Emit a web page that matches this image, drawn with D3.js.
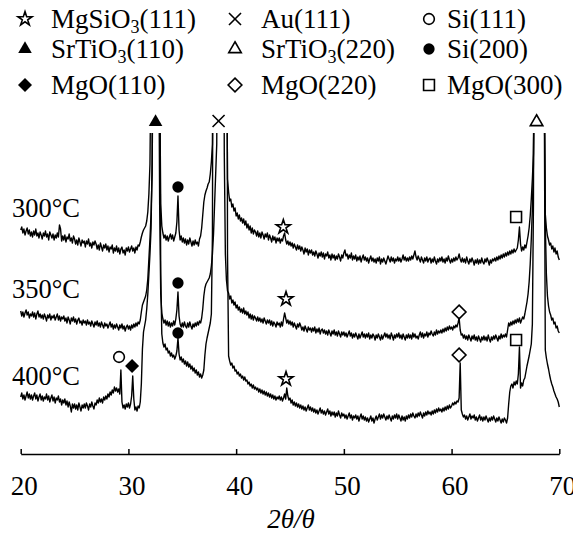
<!DOCTYPE html>
<html>
<head>
<meta charset="utf-8">
<script src="https://cdn.jsdelivr.net/npm/d3@7"></script>
<style>
  body { margin: 0; background: #fff; }
</style>
</head>
<body>
<div class="canvas"></div>
<script>
// scan: 2theta from 20 to 70 deg, step 0.1 deg; intensities in a.u. (curves stacked)
const angleStart = 20
const angleStep = 0.1

const counts300 = [
  224,227,221,225,219,223,226,220,224,218,
  222,217,223,219,225,218,221,216,222,219,
  215,221,218,223,217,220,214,222,219,216,
  220,214,219,216,221,217,229,225,213,218,
  214,219,212,217,215,220,213,216,211,218,
  215,210,214,209,216,212,208,214,211,213,
  207,213,210,215,208,211,206,212,209,213,
  210,205,209,204,211,207,203,209,206,210,
  204,208,202,207,205,209,201,206,203,208,
  202,206,200,205,207,201,204,199,206,203,
  207,202,205,208,203,206,201,207,204,209,
  208,212,217,221,224,226,228,233,242,260,
  290,400,700,900,1000,1000,950,800,600,380,
  250,228,221,216,219,214,218,213,217,220,
  215,219,213,217,221,232,258,224,214,218,
  212,216,211,215,209,214,210,216,212,208,
  213,209,214,210,212,208,215,218,226,239,
  252,259,263,266,270,272,280,292,310,500,
  800,1000,1000,1000,1000,1000,1000,1000,1000,1000,
  800,450,275,262,253,255,247,250,243,246,
  238,241,235,239,233,236,231,235,229,233,
  226,230,224,228,221,226,220,224,222,218,
  223,217,221,216,222,219,215,220,217,221,
  214,219,216,212,218,214,217,211,216,213,
  216,211,215,213,218,221,214,210,213,209,
  212,208,211,206,210,207,204,209,205,208,
  203,207,204,200,206,202,205,199,204,201,
  204,199,202,198,203,200,196,201,198,202,
  197,201,195,200,198,202,196,199,194,200,
  196,199,194,198,195,200,197,193,199,196,
  201,204,198,200,195,199,196,201,194,198,
  195,199,193,197,194,198,192,196,199,194,
  197,193,196,191,195,198,193,196,192,195,
  191,196,193,197,190,195,192,196,193,190,
  194,198,195,192,197,193,196,191,195,193,
  197,193,196,192,195,199,194,197,193,196,
  193,197,194,198,195,199,203,197,194,198,
  195,192,197,194,191,196,193,197,192,195,
  196,191,195,192,197,193,190,195,192,196,
  193,197,192,195,191,196,193,198,194,191,
  195,192,196,193,197,194,196,200,195,192,
  196,192,195,191,197,193,190,195,192,196,
  193,189,194,191,195,190,194,191,196,192,
  190,195,192,196,193,189,194,191,195,193,
  196,193,197,194,198,195,199,196,200,197,
  201,198,202,199,203,200,204,201,205,202,
  204,206,214,227,210,203,207,204,209,206,
  212,218,226,238,255,275,300,420,700,900,
  1000,1000,1000,1000,1000,900,380,240,226,218,
  214,209,211,205,208,202,206,200,203,197,
  194
]

const counts350 = [
  143,138,142,137,141,144,139,142,136,140,
  138,142,137,141,135,140,143,137,140,136,
  139,135,140,137,133,139,136,140,134,138,
  136,139,134,137,140,134,138,133,137,135,
  138,133,136,131,137,134,130,136,133,137,
  132,135,130,134,136,131,133,129,134,131,
  133,129,134,130,132,128,133,130,127,132,
  129,133,128,131,127,132,129,126,131,128,
  130,126,129,132,127,130,125,129,126,130,
  127,124,129,126,130,125,128,123,127,129,
  125,128,124,129,126,130,127,131,128,132,
  130,134,142,149,152,155,158,164,175,195,
  215,240,280,430,800,1000,950,700,450,250,
  160,141,135,131,134,129,133,128,132,127,
  131,128,133,129,135,144,162,138,130,127,
  131,127,132,128,126,131,127,132,128,125,
  130,127,131,128,132,129,133,131,136,145,
  158,166,170,172,174,176,180,188,200,220,
  250,280,310,600,1000,1000,1000,900,600,300,
  200,174,163,161,155,158,151,154,149,152,
  146,149,144,147,142,145,141,146,140,143,
  139,142,136,140,135,139,134,138,136,133,
  137,133,136,132,135,131,136,133,130,134,
  131,134,129,133,128,132,130,127,132,129,
  131,127,132,128,135,141,136,131,134,130,
  133,129,132,127,131,128,125,130,127,131,
  128,124,127,123,128,125,122,127,124,126,
  122,126,123,127,121,125,122,126,120,124,
  125,121,124,120,123,119,124,121,118,123,
  120,124,119,122,118,123,120,117,122,119,
  122,118,121,117,120,123,118,121,116,120,
  117,121,118,115,120,116,119,122,117,120,
  116,120,117,121,115,119,116,120,118,114,
  119,116,120,117,114,119,115,118,121,117,
  120,116,119,115,121,118,114,119,116,120,
  117,121,116,119,115,120,117,114,119,116,
  120,116,119,115,121,117,120,116,118,115,
  119,122,117,121,116,120,118,122,117,121,
  119,123,120,118,122,119,124,120,123,121,
  124,121,125,122,126,123,127,124,128,125,
  127,124,128,126,129,127,131,136,124,119,
  120,116,119,115,118,114,119,116,113,118,
  115,119,114,117,113,118,115,112,117,114,
  118,114,117,113,119,115,112,117,114,118,
  115,119,116,113,118,115,120,116,119,117,
  120,117,124,131,128,132,129,133,130,134,
  131,135,132,136,131,134,137,135,140,146,
  152,160,172,190,215,245,290,420,700,900,
  1000,1000,1000,1000,1000,900,380,230,180,158,
  148,142,139,134,136,130,132,126,128,123,
  121
]

const counts400 = [
  57,61,55,59,54,58,62,56,60,55,
  59,54,58,61,55,59,53,57,60,54,
  58,53,57,55,60,54,58,52,56,59,
  53,57,51,56,54,58,52,55,49,54,
  51,55,49,53,47,52,48,42,50,46,
  50,45,49,44,51,47,43,49,46,50,
  46,51,48,44,50,47,52,48,45,51,
  49,54,51,56,52,55,51,57,54,58,
  55,60,57,62,59,64,61,67,63,66,
  62,65,60,84,52,46,49,45,50,47,
  51,46,50,58,78,55,44,47,43,48,
  46,52,70,105,122,128,134,145,160,180,
  200,225,290,700,1000,1000,1000,900,700,400,
  180,120,111,107,110,104,106,101,103,98,
  101,97,99,95,98,103,116,100,94,97,
  92,95,90,93,88,92,87,90,85,88,
  83,86,81,84,79,82,77,80,76,79,
  84,99,110,116,121,126,131,140,220,700,
  1000,1000,1000,1000,1000,1000,1000,1000,1000,1000,
  1000,800,200,98,93,89,91,86,88,83,
  84,80,82,78,80,76,78,74,77,73,
  74,70,72,68,70,66,69,65,67,64,
  66,62,65,61,64,60,63,59,62,58,
  61,57,60,56,59,55,58,54,57,55,
  58,54,57,53,56,60,55,66,58,54,
  56,51,54,49,52,48,51,47,50,46,
  49,45,48,44,47,43,46,49,44,47,
  43,46,42,45,41,44,40,43,46,41,
  44,40,43,39,42,45,40,43,38,42,
  39,42,37,41,38,43,39,36,41,38,
  40,36,39,35,38,41,36,39,34,38,
  36,39,35,38,33,37,40,35,38,34,
  37,33,36,32,35,38,33,36,31,35,
  38,34,37,40,35,39,36,40,37,34,
  38,35,39,36,33,38,35,39,36,40,
  35,39,36,33,38,34,37,33,38,35,
  39,36,40,37,41,38,36,40,37,41,
  38,42,39,36,41,38,42,39,43,40,
  42,39,43,40,44,41,45,42,46,43,
  45,42,46,43,47,44,48,45,49,46,
  48,51,49,52,50,53,52,56,91,44,
  40,37,39,35,38,34,37,40,35,38,
  36,39,34,37,33,36,39,34,37,33,
  37,34,38,35,32,36,33,37,34,38,
  35,32,36,33,37,34,31,35,32,36,
  34,31,36,50,62,68,70,66,72,69,
  73,70,80,107,66,71,68,74,76,82,
  88,93,98,104,110,130,250,700,1000,1000,
  1000,1000,1000,1000,1000,900,380,104,96,90,
  85,79,74,70,67,63,60,57,55,52,
  47
]

const traceLabels = ["300°C", "350°C", "400°C"]
const labelIntensity = [237, 156, 69]

// legend order: rows of three
const phases = ["MgSiO3(111)", "Au(111)", "Si(111)",
                "SrTiO3(110)", "SrTiO3(220)", "Si(200)",
                "MgO(110)", "MgO(220)", "MgO(300)"]

// peak markers: [phase, 2theta, intensity]
const peakMarks = [
  ["SrTiO3(110)", 32.52, 332], ["Au(111)", 38.37, 333], ["SrTiO3(220)", 67.89, 332],
  ["Si(200)", 34.6, 267], ["Si(200)", 34.6, 171], ["Si(200)", 34.6, 121],
  ["MgSiO3(111)", 44.38, 227], ["MgSiO3(111)", 44.63, 155], ["MgSiO3(111)", 44.63, 75],
  ["MgO(300)", 65.99, 237], ["MgO(300)", 65.99, 114],
  ["MgO(220)", 60.7, 142], ["MgO(220)", 60.7, 99],
  ["Si(111)", 29.13, 97], ["MgO(110)", 30.34, 88]
]

const xTicks = [20, 30, 40, 50, 60, 70]

// settings
const svgWidth = 573
const svgHeight = 533
const fontFamily = '"Liberation Serif", "Times New Roman", "DejaVu Serif", serif'
const plot = {left: 20.7, right: 559.3, top: 133, bottom: 454}
const legendCols = [{sx: 25, tx: 51}, {sx: 235, tx: 261}, {sx: 429, tx: 447}]
const legendRows = [28, 58, 94]

const symbolStyle = {
  "MgSiO3(111)": {type: d3.symbolStar, size: 62, fill: "none"},
  "Au(111)": {type: d3.symbolTimes, size: 96, fill: "none"},
  "Si(111)": {type: d3.symbolCircle, size: 90, fill: "none"},
  "SrTiO3(110)": {type: d3.symbolTriangle, size: 80, fill: "#000"},
  "SrTiO3(220)": {type: d3.symbolTriangle, size: 68, fill: "none"},
  "Si(200)": {type: d3.symbolCircle, size: 100, fill: "#000"},
  "MgO(110)": {type: d3.symbolDiamond2, size: 125, fill: "#000"},
  "MgO(220)": {type: d3.symbolDiamond2, size: 120, fill: "none"},
  "MgO(300)": {type: d3.symbolSquare2, size: 150, fill: "none"}
}

const toPoints = counts => counts.map((v, i) => [angleStart + i * angleStep, v])

const svg = d3.select(".canvas")
    .append("svg")
    .attr("width", svgWidth)
    .attr("height", svgHeight)
    .attr("font-family", fontFamily)

const x = d3.scaleLinear().domain([20, 70]).range([plot.left, plot.right])
const y = d3.scaleLinear().domain([0, 321]).range([plot.bottom, plot.top])

svg.append("clipPath").attr("id", "plotClip")
  .append("rect")
    .attr("x", plot.left - 2)
    .attr("y", plot.top)
    .attr("width", plot.right - plot.left + 4)
    .attr("height", plot.bottom - plot.top)

const line = d3.line().x(d => x(d[0])).y(d => y(d[1]))

svg.append("g")
    .attr("clip-path", "url(#plotClip)")
  .selectAll("path")
  .data([counts300, counts350, counts400].map(toPoints))
  .enter()
  .append("path")
    .attr("d", line)
    .attr("fill", "none")
    .attr("stroke", "#000")
    .attr("stroke-width", 1.4)
    .attr("stroke-linejoin", "round")

// axis
const xAxis = d3.axisBottom(x)
    .tickValues(xTicks)
    .tickSize(-5)
    .tickSizeOuter(0)
    .tickFormat(d3.format("d"))

const axisG = svg.append("g")
    .attr("transform", `translate(0, ${plot.bottom})`)
    .call(xAxis)

axisG.attr("font-family", fontFamily).attr("font-size", 27)
axisG.select(".domain").attr("stroke-width", 1.5)
axisG.selectAll(".tick line").attr("stroke-width", 1.5)
axisG.selectAll(".tick text")
    .attr("y", 41)
    .attr("dy", null)
    .attr("dx", 3)
    .attr("fill", "#000")

svg.append("text")
    .attr("x", 291)
    .attr("y", 528)
    .attr("text-anchor", "middle")
    .attr("font-size", 27)
    .attr("font-style", "italic")
    .text("2θ/θ")

// trace labels
svg.selectAll(".tlabel")
  .data(traceLabels)
  .enter()
  .append("text")
    .attr("class", "tlabel")
    .attr("x", 12)
    .attr("y", (d, i) => y(labelIntensity[i]))
    .attr("font-size", 26.5)
    .text(d => d)

const symbolPath = name => d3.symbol(symbolStyle[name].type, symbolStyle[name].size)()

function drawSymbol(g, name) {
  const st = symbolStyle[name]
  g.append("path")
    .attr("d", symbolPath(name))
    .attr("fill", st.fill)
    .attr("stroke", "#000")
    .attr("stroke-width", st.fill === "none" ? 1.6 : 0)
}

// peak markers
peakMarks.forEach(m => {
  const g = svg.append("g").attr("transform", `translate(${x(m[1])}, ${y(m[2])})`)
  drawSymbol(g, m[0])
})

// legend
phases.forEach((name, i) => {
  const col = legendCols[i % 3]
  const base = legendRows[Math.floor(i / 3)]
  const g = svg.append("g").attr("transform", `translate(${col.sx}, ${base - 9})`)
  drawSymbol(g, name)

  const t = svg.append("text")
      .attr("x", col.tx)
      .attr("y", base)
      .attr("font-size", 27)
  const parts = name.split("O3")
  if (parts.length > 1) {
    t.append("tspan").text(parts[0] + "O")
    t.append("tspan").attr("font-size", 18).attr("dy", 5).text("3")
    t.append("tspan").attr("dy", -5).text(parts[1])
  } else {
    t.text(name)
  }
})
</script>
</body>
</html>
